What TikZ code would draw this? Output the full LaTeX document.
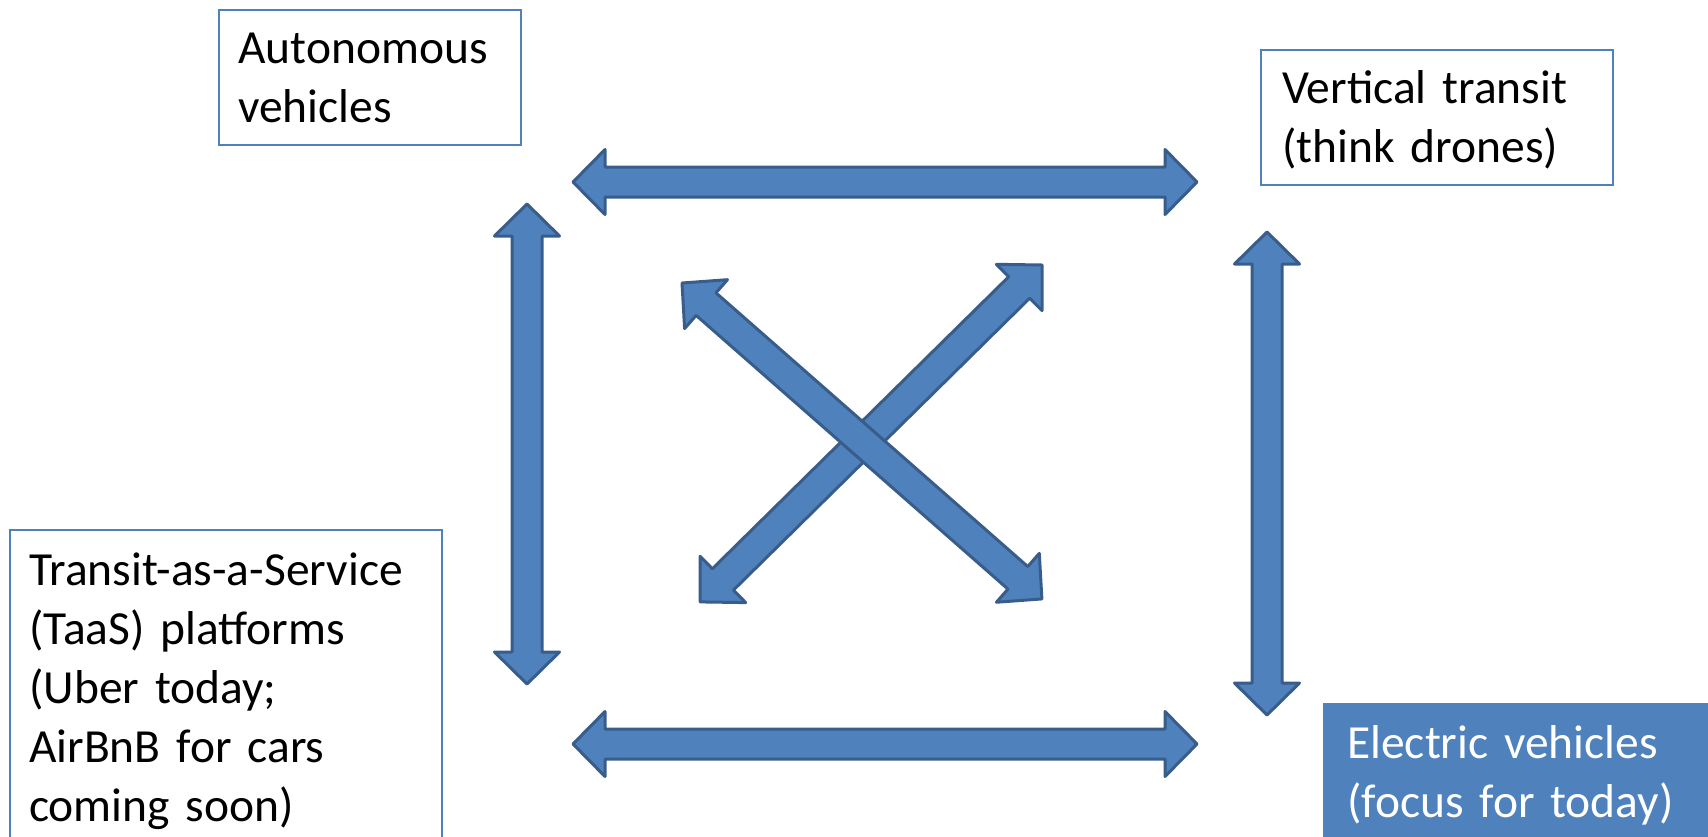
\documentclass[tikz,border=0pt]{standalone}
\usepackage{fontspec}
\setmainfont{Carlito}
\usetikzlibrary{calc}
\definecolor{officeblue}{HTML}{4F81BD}
\definecolor{officeedge}{HTML}{385D8A}

\tikzset{
  framebox/.style={draw=officeblue, line width=1.8pt, rectangle, inner sep=0pt, anchor=north west},
  filledbox/.style={fill=officeblue, draw=none, rectangle, inner sep=0pt, anchor=north west},
  boxtext/.style={anchor=base west, inner sep=0pt, text width=#1, align=left,
    font=\fontsize{47.5}{59}\selectfont},
  blockarrow/.style={fill=officeblue, draw=officeedge, line width=3pt, line join=round},
}

% Double-headed block arrow from one named coordinate to another
\newcommand\drawblockarrow[2]{%
  \path let \p1=(#1), \p2=(#2) in
    \pgfextra{%
      \pgfmathsetmacro\baAng{atan2(\y2-\y1,\x2-\x1)}%
      \pgfmathsetmacro\baLen{veclen(\x2-\x1,\y2-\y1)}%
      \xdef\baAngG{\baAng}\xdef\baLenG{\baLen}};
  \begin{scope}[shift={(#1)}, rotate=\baAngG]
    \draw[blockarrow] (0,0) -- (32,32.5) -- (32,15) -- ({\baLenG-32},15)
      -- ({\baLenG-32},32.5) -- (\baLenG,0) -- ({\baLenG-32},-32.5)
      -- ({\baLenG-32},-15) -- (32,-15) -- (32,-32.5) -- cycle;
  \end{scope}}

\begin{document}
\begin{tikzpicture}[x=1pt, y=-1pt]
  \useasboundingbox (0,0) rectangle (1708,836);
  \clip (0,0) rectangle (1708,836);

  % the four topic boxes
  \node[framebox, minimum width=302pt, minimum height=135pt] (av) at (218,9) {};
  \node[framebox, minimum width=352pt, minimum height=135pt] (vt) at (1260,49) {};
  \node[framebox, minimum width=432pt, minimum height=330pt] (taas) at (9,529) {};
  \node[filledbox, minimum width=420pt, minimum height=160pt] (ev) at (1323,703) {};

  \node[boxtext=290pt] (avtext) at (238,63) {Autonomous\\vehicles};
  \node[boxtext=340pt] (vttext) at (1282,103) {Vertical transit\\(think drones)};
  \node[boxtext=410pt] (taastext) at (29,585)
    {Transit-as-a-Service\\(TaaS) platforms\\(Uber today;\\AirBnB for cars\\coming soon)};
  \node[boxtext=370pt, text=white] (evtext) at (1347,758)
    {Electric vehicles\\(focus for today)};

  % arrow end points
  \coordinate (top-l) at (573,182);
  \coordinate (top-r) at (1197,182);
  \coordinate (bot-l) at (573,744);
  \coordinate (bot-r) at (1197,744);
  \coordinate (lft-t) at (527,204);
  \coordinate (lft-b) at (527,684);
  \coordinate (rgt-t) at (1267,232);
  \coordinate (rgt-b) at (1267,715);
  \coordinate (ne) at (1042,265);
  \coordinate (sw) at (700,602);
  \coordinate (nw) at (682,283);
  \coordinate (se) at (1042,599);

  \drawblockarrow{top-l}{top-r}
  \drawblockarrow{bot-l}{bot-r}
  \drawblockarrow{lft-t}{lft-b}
  \drawblockarrow{rgt-t}{rgt-b}
  \drawblockarrow{ne}{sw}
  \drawblockarrow{nw}{se}
\end{tikzpicture}
\end{document}
